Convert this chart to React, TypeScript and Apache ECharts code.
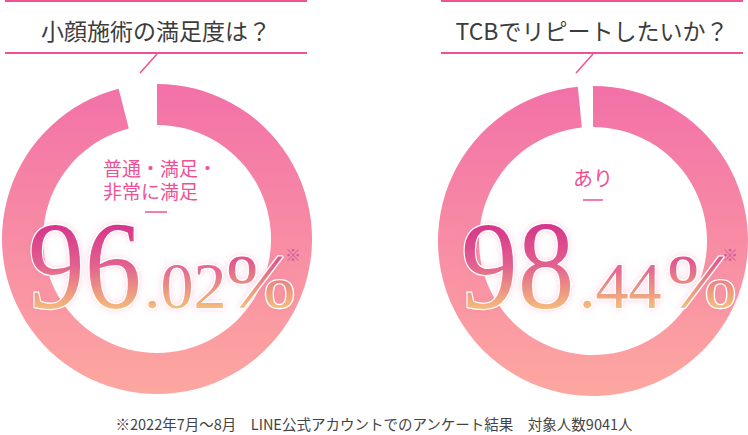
import React, { useEffect, useRef } from 'react';
import * as echarts from 'echarts';

// two surveys, one donut each
const questions = ['小顔施術の満足度は？', 'TCBでリピートしたいか？'];
const answerLabels = [['普通・満足・', '非常に満足'], ['あり']];
const positiveShare = [96.02, 98.44];
const otherShare = [3.98, 1.56];
const intParts = ['96', '98'];
const decParts = ['.02', '.44'];
const footnote = '※2022年7月～8月　LINE公式アカウントでのアンケート結果　対象人数9041人';

const centers = [
  [157, 239],
  [593, 241],
];
const intX = [28, 461];
const decX = [144, 579];
const pctX = [226, 667];
const noteX = [285, 722];

const PINK = '#ee5294';

const ringColor = () =>
  new echarts.graphic.LinearGradient(0, 0, 0, 1, [
    { offset: 0, color: '#f271a8' },
    { offset: 1, color: '#fda7a0' },
  ]);

// zrender turns gradient text fills into black, so the number texts get an svg gradient by id
const numberFills: Record<string, string> = {};
intParts.forEach((t) => (numberFills[t] = 'url(#numGradBig)'));
decParts.forEach((t) => (numberFills[t] = 'url(#numGradDec)'));
numberFills['%'] = 'url(#numGradPct)';

const App: React.FC = () => {
  const chartRef = useRef<HTMLDivElement | null>(null);

  useEffect(() => {
    if (!chartRef.current) return;
    const chart = echarts.init(chartRef.current, undefined, { renderer: 'svg' });

    const series = positiveShare.map((v, i) => ({
      type: 'pie',
      center: centers[i],
      radius: [114, 155],
      startAngle: 90,
      clockwise: true,
      silent: true,
      label: { show: false },
      labelLine: { show: false },
      data: [
        { value: v, name: answerLabels[i].join(''), itemStyle: { color: ringColor() } },
        { value: otherShare[i], name: 'その他', itemStyle: { color: 'rgba(0,0,0,0)' } },
      ],
    }));

    const numStyle = (size: number) => ({
      fill: '#e46a8f',
      font: `normal ${size}px "Liberation Serif", serif`,
      textVerticalAlign: 'middle',
      stroke: '#fff',
      lineWidth: 2.5,
      textShadowColor: 'rgba(236,120,165,0.3)',
      textShadowBlur: 7,
    });

    const graphic: any[] = [];
    questions.forEach((q, i) => {
      const [cx] = centers[i];
      const left = i === 0 ? 5 : 441;
      const right = i === 0 ? 307 : 743;
      graphic.push(
        { type: 'line', shape: { x1: left, y1: 1, x2: right, y2: 1 }, style: { stroke: PINK, lineWidth: 2 } },
        { type: 'line', shape: { x1: left, y1: 53, x2: right, y2: 53 }, style: { stroke: PINK, lineWidth: 2 } },
        { type: 'line', shape: { x1: cx, y1: 54, x2: cx - 17, y2: 73 }, style: { stroke: PINK, lineWidth: 1.5 } },
        {
          type: 'text',
          x: (left + right) / 2,
          y: 30,
          style: {
            text: q,
            fill: '#3c3c3c',
            font: '23px "Noto Sans CJK JP", sans-serif',
            textAlign: 'center',
            textVerticalAlign: 'middle',
          },
        }
      );
    });

    // answer labels
    answerLabels[0].forEach((t, k) =>
      graphic.push({
        type: 'text',
        x: 103,
        y: 167 + k * 23,
        style: {
          text: t,
          fill: PINK,
          font: '19px "Noto Sans CJK JP", sans-serif',
          textAlign: 'left',
          textVerticalAlign: 'middle',
        },
      })
    );
    graphic.push(
      { type: 'line', shape: { x1: 145, y1: 212, x2: 167, y2: 212 }, style: { stroke: PINK, lineWidth: 1.5 } },
      {
        type: 'text',
        x: 593,
        y: 177,
        style: {
          text: answerLabels[1][0],
          fill: PINK,
          font: '20px "Noto Sans CJK JP", sans-serif',
          textAlign: 'center',
          textVerticalAlign: 'middle',
        },
      },
      { type: 'line', shape: { x1: 583, y1: 200, x2: 603, y2: 200 }, style: { stroke: PINK, lineWidth: 1.5 } }
    );

    intParts.forEach((ip, i) => {
      graphic.push(
        { type: 'text', x: intX[i], y: 265, scaleX: 0.9, style: { text: ip, ...numStyle(126) } },
        { type: 'text', x: decX[i], y: 285, style: { text: decParts[i], ...numStyle(66) } },
        { type: 'text', x: pctX[i], y: 281, scaleX: 1.1, style: { text: '%', ...numStyle(76) } },
        {
          type: 'text',
          x: noteX[i],
          y: 254,
          style: {
            text: '※',
            fill: '#c95a9c',
            font: 'bold 16px "Noto Sans CJK JP", sans-serif',
            textAlign: 'left',
            textVerticalAlign: 'middle',
          },
        }
      );
    });

    graphic.push({
      type: 'text',
      x: 374,
      y: 423,
      style: {
        text: footnote,
        fill: '#444',
        font: '14.5px "Noto Sans CJK JP", sans-serif',
        textAlign: 'center',
        textVerticalAlign: 'middle',
      },
    });

    chart.setOption({
      animation: false,
      backgroundColor: '#fff',
      series,
      graphic: graphic.map((g) => ({ ...g, z: 100, silent: true })),
    });

    const paintNumbers = () => {
      chartRef.current?.querySelectorAll('text').forEach((t) => {
        const fill = numberFills[(t.textContent || '').trim()];
        if (fill) (t as SVGTextElement).style.fill = fill;
      });
    };
    paintNumbers();
    chart.on('rendered', paintNumbers);

    return () => {
      chart.dispose();
    };
  }, []);

  return (
    <>
      <svg width="0" height="0" style={{ position: 'absolute' }}>
        <defs>
          <linearGradient id="numGradBig" x1="0" y1="0" x2="0" y2="1">
            <stop offset="0.2" stopColor="#d6338a" />
            <stop offset="0.5" stopColor="#e2608f" />
            <stop offset="0.82" stopColor="#f5bd7a" />
          </linearGradient>
          <linearGradient id="numGradDec" x1="0" y1="0" x2="0" y2="1">
            <stop offset="0.3" stopColor="#e46a8f" />
            <stop offset="0.82" stopColor="#f5bd7a" />
          </linearGradient>
          <linearGradient id="numGradPct" x1="0" y1="0" x2="0" y2="1">
            <stop offset="0.25" stopColor="#e0568d" />
            <stop offset="0.82" stopColor="#f5bd7a" />
          </linearGradient>
        </defs>
      </svg>
      <div
        ref={chartRef}
        style={{ position: 'fixed', left: 0, top: 0, width: '748px', height: '435px' }}
      />
    </>
  );
};

export default App;
